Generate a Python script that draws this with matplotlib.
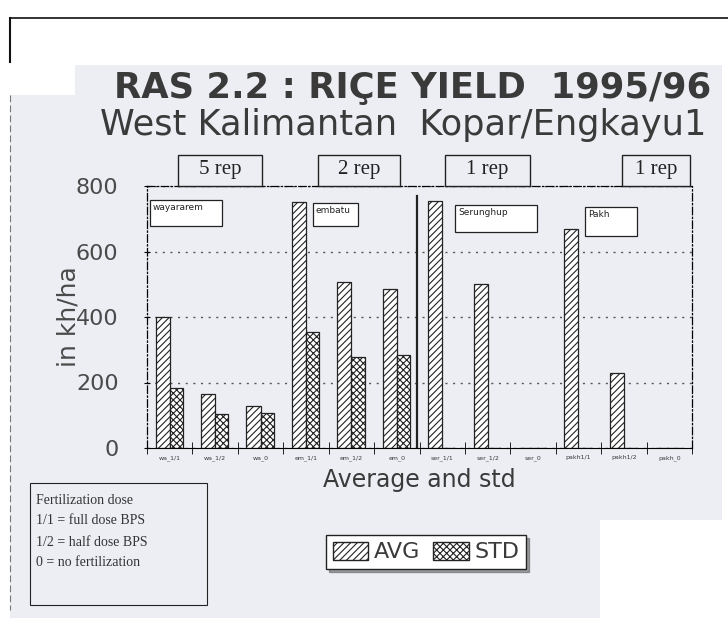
import matplotlib
matplotlib.use("Agg")
import matplotlib.pyplot as plt
from matplotlib.patches import Rectangle, Patch
import numpy as np

# datos
etiquetas = ['wa_1/1', 'wa_1/2', 'wa_0', 'em_1/1', 'em_1/2', 'em_0',
             'ser_1/1', 'ser_1/2', 'ser_0', 'pakh1/1', 'pakh1/2', 'pakh_0']
promedio = [400, 164, 128, 751, 508, 487, 754, 502, 0, 669, 228, 0]
desv_std = [183, 103, 106, 353, 277, 283, 0, 0, 0, 0, 0, 0]
reps = ['5 rep', '2 rep', '1 rep', '1 rep']
sitios = ['wayararem', 'embatu', 'Serunghup', 'Pakh']
notas = ['Fertilization dose', '1/1 = full dose BPS', '1/2 = half dose BPS', '0 = no fertilization']

W, H = 728, 618
fondo = '#eceef4'
tinta = '#3a3a3a'
plt.rcParams['font.family'] = ['DejaVu Sans']
plt.rcParams['hatch.linewidth'] = 0.8

fig = plt.figure(figsize=(W / 100, H / 100), dpi=100, facecolor='white')


def fx(px):
    return px / W


def fy(py):
    return 1 - py / H


def caja(x0, y0, x1, y1, lw=1.0, fc='none', z=3):
    fig.add_artist(Rectangle((fx(x0), fy(y1)), fx(x1) - fx(x0), fy(y0) - fy(y1),
                             transform=fig.transFigure, fill=fc != 'none',
                             facecolor=fc, edgecolor='#222222', lw=lw, zorder=z))


# fondo gris del escaneo
fig.add_artist(Rectangle((fx(10), 0), fx(712), fy(95), transform=fig.transFigure,
                         facecolor=fondo, edgecolor='none', zorder=0))
fig.add_artist(Rectangle((fx(75), fy(95)), fx(647), fy(65) - fy(95), transform=fig.transFigure,
                         facecolor=fondo, edgecolor='none', zorder=0))
fig.add_artist(Rectangle((fx(600), 0), fx(128), fy(520), transform=fig.transFigure,
                         facecolor='white', edgecolor='none', zorder=0))
# restos del marco superior
fig.add_artist(plt.Line2D([fx(10), 1], [fy(18), fy(18)], transform=fig.transFigure, color='#111', lw=1.2))
fig.add_artist(plt.Line2D([fx(10), fx(10)], [fy(18), fy(62)], transform=fig.transFigure, color='#111', lw=1.5))
fig.add_artist(plt.Line2D([fx(10), fx(10)], [fy(95), fy(610)], transform=fig.transFigure, color='#777',
                          lw=0.8, ls=(0, (6, 3))))

ax = fig.add_axes([fx(147), fy(448), fx(692) - fx(147), fy(186) - fy(448)])
ax.set_facecolor(fondo)

x = np.arange(len(etiquetas))
ax.bar(x - 0.31, promedio, width=0.31, align='edge', color='white', edgecolor='#222222',
       hatch='/////', lw=0.9, label='AVG', zorder=2)
ax.bar(x, desv_std, width=0.29, align='edge', color='white', edgecolor='#222222',
       hatch='xxxxx', lw=0.9, label='STD', zorder=2)
ax.axvline(5.45, 0, 0.96, color='#222222', lw=1.6, zorder=2)

ax.set_xlim(-0.5, len(etiquetas) - 0.5)
ax.set_ylim(0, 800)
ax.set_yticks([0, 200, 400, 600, 800])
ax.tick_params(axis='y', labelsize=16, labelcolor='#4a4a4a', direction='inout', length=5, pad=18)
ax.set_xticks(x)
ax.set_xticklabels(etiquetas, fontsize=4.5, color=tinta)
ax.tick_params(axis='x', length=0, pad=5)
ax.set_xticks(np.arange(len(etiquetas) + 1) - 0.5, minor=True)
ax.tick_params(axis='x', which='minor', direction='inout', length=8)
ax.yaxis.grid(True, ls=(0, (1.5, 4)), color='#555555', lw=1.0)
ax.set_axisbelow(True)
for lado in ['top', 'left', 'right']:
    ax.spines[lado].set_linestyle((0, (6, 2, 1, 2)))
    ax.spines[lado].set_linewidth(0.9)
ax.set_ylabel('in kh/ha', fontsize=18, color='#4a4a4a', labelpad=-3)
ax.set_xlabel('Average and std', fontsize=17, color=tinta, labelpad=5)

# titulos
fig.text(fx(413), fy(88), 'RAS 2.2 : RIÇE YIELD  1995/96', ha='center', va='center',
         fontsize=25.5, fontweight='bold', color=tinta)
fig.text(fx(403), fy(125), 'West Kalimantan  Kopar/Engkayu1', ha='center', va='center',
         fontsize=25.3, color=tinta)

# cajas de repeticiones
cajas_rep = [(178, 262), (318, 400), (445, 530), (622, 690)]
for (x0, x1), r in zip(cajas_rep, reps):
    caja(x0, 155, x1, 186, lw=1.0, fc=fondo)
    fig.text(fx((x0 + x1) / 2), fy(170), r, ha='center', va='center', fontsize=15,
             family='Liberation Serif', color='#222222', zorder=4)

# cajas de sitios
cajas_sitio = [(150, 200, 222, 226), (313, 203, 358, 226), (455, 205, 537, 232), (585, 207, 637, 236)]
for (x0, y0, x1, y1), s in zip(cajas_sitio, sitios):
    caja(x0, y0, x1, y1, lw=0.9, fc='white')
    fig.text(fx(x0 + 3), fy(y0 + 3), s, ha='left', va='top', fontsize=6.5, color='#222222', zorder=4)

# nota de fertilizacion
caja(30, 483, 207, 605, lw=0.8)
for i, n in enumerate(notas):
    fig.text(fx(36), fy(500 + i * 21), n, ha='left', va='center', fontsize=10,
             family='Liberation Serif', color='#333333')

# leyenda
h_avg = Patch(facecolor='white', edgecolor='#222222', hatch='/////', label='AVG')
h_std = Patch(facecolor='white', edgecolor='#222222', hatch='xxxxx', label='STD')
leg = fig.legend(handles=[h_avg, h_std], loc='center', bbox_to_anchor=(fx(426), fy(552)),
                 ncol=2, fontsize=16, frameon=True, fancybox=False, shadow=True,
                 edgecolor='#222222', handlelength=1.6, handleheight=0.9, handletextpad=0.25,
                 columnspacing=0.6, borderpad=0.3, borderaxespad=0.2)
for t in leg.get_texts():
    t.set_color(tinta)

plt.savefig('out.png', dpi=100, facecolor=fig.get_facecolor())
